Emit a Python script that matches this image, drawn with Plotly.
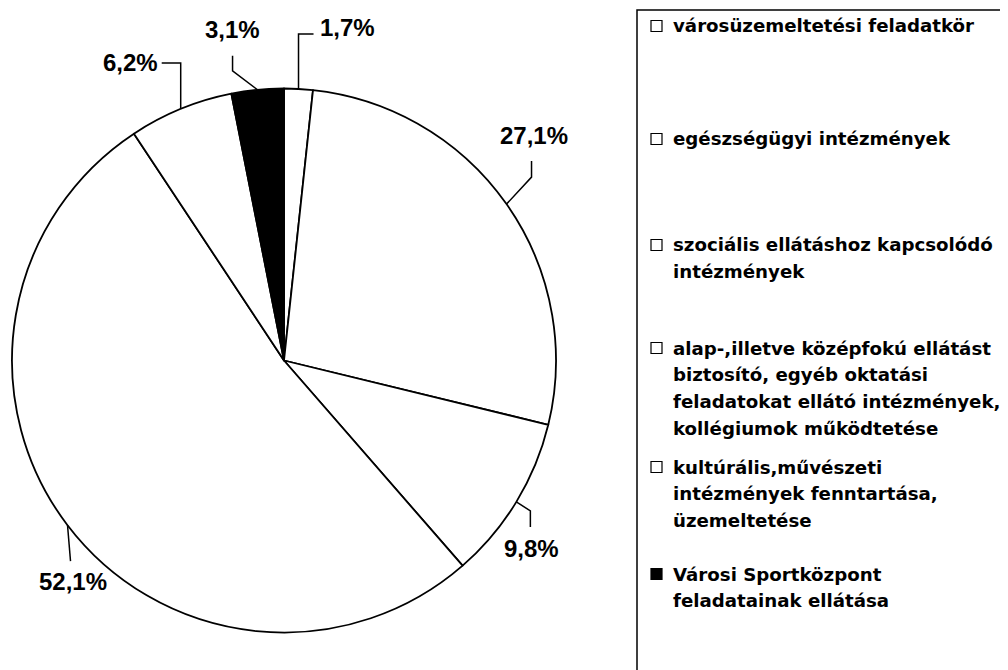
import math
import plotly.graph_objects as go

# ---- data ----
categories = [
    "városüzemeltetési feladatkör",
    "egészségügyi intézmények",
    "szociális ellátáshoz kapcsolódó<br>intézmények",
    "alap-,illetve középfokú ellátást<br>biztosító, egyéb oktatási<br>feladatokat ellátó intézmények,<br>kollégiumok működtetése",
    "kultúrális,művészeti<br>intézmények fenntartása,<br>üzemeltetése",
    "Városi Sportközpont<br>feladatainak ellátása",
]
shares = [1.7, 27.1, 9.8, 52.1, 6.2, 3.1]
share_labels = ["1,7%", "27,1%", "9,8%", "52,1%", "6,2%", "3,1%"]
slice_colors = ["white", "white", "white", "white", "white", "black"]

W, H = 1008, 670
PAGE_OFF = 8  # default body margin of the html page
CX, CY, R = 284.0, 360.5, 272.0


def px(x):
    return (x - PAGE_OFF) / W


def py(y):
    return 1 - (y - PAGE_OFF) / H


fig = go.Figure()
fig.add_trace(go.Pie(
    values=shares,
    labels=[c.replace("<br>", " ") for c in categories],
    marker=dict(colors=slice_colors, line=dict(color="black", width=1.8)),
    sort=False,
    direction="clockwise",
    rotation=0,
    textinfo="none",
    showlegend=False,
    hoverinfo="label+percent",
    domain=dict(x=[px(CX - R), px(CX + R)], y=[py(CY + R), py(CY - R)]),
))

# leader-line elbows (pixel offsets from the arc point) and label placement
leader_style = [
    dict(pts=[(0, -55), (15, -55)], text=(19, -61), anchor="left"),
    dict(pts=[(25, -27), (25, -43)], text=(27, -69), anchor="center"),
    dict(pts=[(14, 9), (14, 25)], text=(15, 47), anchor="center"),
    dict(pts=[(3, 36)], text=(5, 56), anchor="center"),
    dict(pts=[(0, -46), (-19, -46)], text=(-21, -46), anchor="right"),
    dict(pts=[(-25, -19), (-25, -34)], text=(-25, -60), anchor="center"),
]

shapes = []
annotations = []
total = sum(shares)
cum = 0.0
for v, lab, st in zip(shares, share_labels, leader_style):
    mid = (cum + v / 2) / total * 2 * math.pi
    cum += v
    ax = CX + R * math.sin(mid)
    ay = CY - R * math.cos(mid)
    pts = [(ax, ay)] + [(ax + dx, ay + dy) for dx, dy in st["pts"]]
    path = "M " + " L ".join(f"{px(x):.5f},{py(y):.5f}" for x, y in pts)
    shapes.append(dict(type="path", path=path, xref="paper", yref="paper",
                       line=dict(color="black", width=1.5)))
    tx, ty = ax + st["text"][0], ay + st["text"][1]
    annotations.append(dict(
        x=px(tx), y=py(ty), xref="paper", yref="paper", text=lab,
        showarrow=False, xanchor=st["anchor"], yanchor="middle",
        font=dict(family="Liberation Sans, Arial", size=24, color="black", weight="bold"),
    ))

# legend box (extends past the right/bottom edge, as in the original)
shapes.append(dict(type="rect", xref="paper", yref="paper",
                   x0=px(637), x1=px(1040), y0=py(700), y1=py(10),
                   line=dict(color="black", width=1.5), fillcolor="rgba(0,0,0,0)"))

legend_tops = [26, 139, 245, 348, 467, 574]
line_gap = 26.7
for cat, col, top in zip(categories, slice_colors, legend_tops):
    shapes.append(dict(type="rect", xref="paper", yref="paper",
                       x0=px(651), x1=px(662), y0=py(top + 5.5), y1=py(top - 5.5),
                       line=dict(color="black", width=1.2), fillcolor=col))
    for i, line in enumerate(cat.split("<br>")):
        annotations.append(dict(
            x=px(671), y=py(top + i * line_gap), xref="paper", yref="paper",
            text=line, showarrow=False, xanchor="left", yanchor="middle",
            font=dict(family="DejaVu Sans", size=18.2, color="black", weight="bold"),
        ))

fig.update_layout(
    width=W, height=H,
    margin=dict(l=0, r=0, t=0, b=0),
    paper_bgcolor="white",
    plot_bgcolor="white",
    shapes=shapes,
    annotations=annotations,
    showlegend=False,
)

fig.write_html("out.html")
